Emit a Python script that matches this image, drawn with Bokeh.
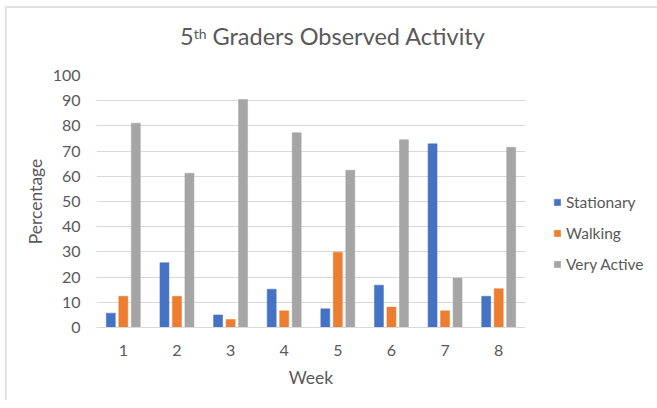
from bokeh.plotting import figure
from bokeh.models import FactorRange, Range1d, Legend, LegendItem, ColumnDataSource, FixedTicker, Div
from bokeh.layouts import column
from bokeh.transform import dodge
from bokeh.embed import file_html
from bokeh.resources import INLINE

weeks = ["1", "2", "3", "4", "5", "6", "7", "8"]
stationary = [5.7, 25.7, 5.0, 15.2, 7.4, 16.8, 72.9, 12.4]
walking = [12.4, 12.4, 3.2, 6.6, 29.9, 8.1, 6.6, 15.4]
very_active = [81.1, 61.2, 90.5, 77.3, 62.4, 74.5, 19.6, 71.5]
y_ticks = [0, 10, 20, 30, 40, 50, 60, 70, 80, 90, 100]
series_names = ["Stationary", "Walking", "Very Active"]
colors = ["#4472C4", "#ED7D31", "#A5A5A5"]

FONT = "Lato"
TXT = "#595959"

OX, OY = 7, 8          # chart-area border offset (margin + 2px border)
TITLE_H = 50           # includes the Div's default 5px margins
W = 641 - OX
TOTAL_H = 400

title = Div(
    text=('<div style="padding-left:168px; padding-top:9px; font-family:Lato; font-size:23.5px; '
          'color:#595959; white-space:nowrap; line-height:1.2;">5<sup style="font-size:14px; '
          'vertical-align:0.45em; line-height:0;">th</sup> Graders Observed Activity</div>'),
    width=W - 10, height=TITLE_H - 10)

src = ColumnDataSource(dict(week=weeks, s=stationary, w=walking, v=very_active))

FW, FH = 429, 252
TOP = 75 - OY - TITLE_H
p = figure(x_range=FactorRange(factors=weeks), y_range=Range1d(0, 100),
           frame_width=FW, frame_height=FH, output_backend="svg", toolbar_location=None,
           min_border_left=96 - OX, min_border_right=118, min_border_top=TOP,
           min_border_bottom=TOTAL_H - OY - TITLE_H - FH - TOP)
p.outline_line_color = None

offs = [-0.233, 0.0, 0.233]
cols = ["s", "w", "v"]
rs = []
for c, o, col in zip(cols, offs, colors):
    r = p.vbar(x=dodge("week", o, range=p.x_range), top=c, width=0.168, bottom=0,
               source=src, fill_color=col, line_color=col, line_width=0.5)
    rs.append(r)

p.xgrid.grid_line_color = None
p.ygrid.grid_line_color = "#D9D9D9"
p.ygrid.grid_line_width = 1

p.yaxis.ticker = FixedTicker(ticks=y_ticks)
p.yaxis.axis_line_color = None
p.yaxis.major_tick_line_color = None
p.yaxis.minor_tick_line_color = None
p.yaxis.major_label_standoff = 10
p.yaxis.major_label_text_font = FONT
p.yaxis.major_label_text_font_size = "16px"
p.yaxis.major_label_text_color = TXT
p.yaxis.axis_label = "Percentage"
p.yaxis.axis_label_text_font = FONT
p.yaxis.axis_label_text_font_size = "17.5px"
p.yaxis.axis_label_text_font_style = "normal"
p.yaxis.axis_label_text_color = TXT
p.yaxis.axis_label_standoff = 4

p.xaxis.axis_line_color = "#D9D9D9"
p.xaxis.major_tick_line_color = None
p.xaxis.minor_tick_line_color = None
p.xaxis.major_label_standoff = 11
p.xaxis.major_label_text_font = FONT
p.xaxis.major_label_text_font_size = "16px"
p.xaxis.major_label_text_color = TXT
p.xaxis.axis_label = "Week"
p.xaxis.axis_label_text_font = FONT
p.xaxis.axis_label_text_font_size = "17.5px"
p.xaxis.axis_label_text_font_style = "normal"
p.xaxis.axis_label_text_color = TXT
p.xaxis.axis_label_standoff = 8

legend = Legend(items=[LegendItem(label=n, renderers=[r]) for n, r in zip(series_names, rs)],
                location=(28, 53), border_line_color=None, background_fill_alpha=0,
                padding=0, margin=0, spacing=11, label_height=20, glyph_width=8, glyph_height=8,
                label_standoff=5, label_text_font=FONT, label_text_font_size="15.5px",
                label_text_color=TXT)
p.add_layout(legend, "right")

layout = column(title, p, spacing=0, margin=(6, 0, 0, 5),
                styles={"border-left": "2px solid #E2E2E2", "border-top": "2px solid #E2E2E2"})
open("out.html", "w").write(file_html(layout, INLINE))
